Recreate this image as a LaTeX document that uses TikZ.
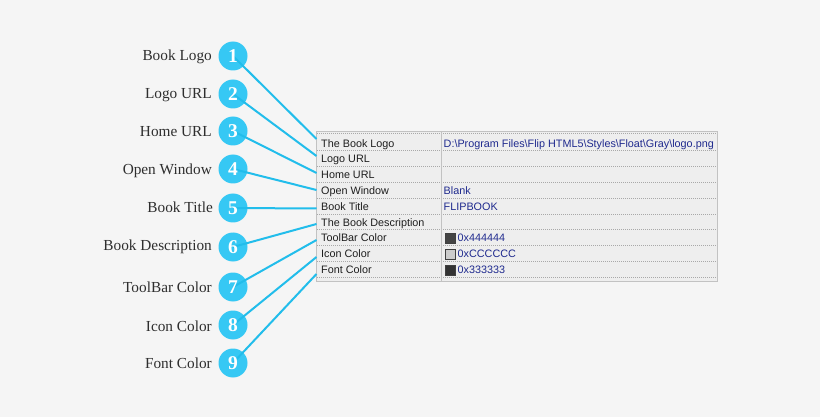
\documentclass[tikz,border=0pt]{standalone}
\usepackage{fontspec}
\setmainfont{Liberation Serif}
\newfontfamily\tablefont{Liberation Sans}
\definecolor{pagebg}{HTML}{F5F5F5}
\definecolor{tablebg}{HTML}{EEEEEE}
\definecolor{tableedge}{HTML}{C2C2C2}
\definecolor{rowrule}{HTML}{A9A9A9}
\definecolor{badgefill}{HTML}{36C8F4}
\definecolor{linkline}{HTML}{22BDEB}
\definecolor{labeltext}{HTML}{2E2E2E}
\definecolor{celltext}{HTML}{1E1E1E}
\definecolor{valuetext}{HTML}{1F2A8E}
\begin{document}
\begin{tikzpicture}[x=1pt,y=-1pt,
  badge/.style={circle, fill=badgefill, minimum size=29pt, inner sep=0pt},
  digit/.style={text=white, inner sep=0pt, font=\bfseries\fontsize{19.5}{19.5}\selectfont},
  itemlabel/.style={anchor=base east, inner sep=0pt, text=labeltext, font=\fontsize{15.3}{18}\selectfont},
  cellname/.style={anchor=base west, inner sep=0pt, text=celltext, font=\tablefont\fontsize{10.8}{12}\selectfont},
  cellvalue/.style={anchor=base west, inner sep=0pt, text=valuetext, font=\tablefont\fontsize{10.8}{12}\selectfont},
  swatch/.style={draw=black!75, line width=0.6pt, minimum size=10pt, inner sep=0pt},
  link/.style={draw=linkline, line width=2pt},
  rowsep/.style={draw=rowrule, line width=0.7pt, dash pattern=on 1pt off 1pt}]

% page background
\fill[pagebg] (0,0) rectangle (820,417);
\useasboundingbox (0,0) rectangle (820,417);

% property grid
\fill[tablebg] (316,131) rectangle (717,281.5);
\draw[rowsep] (317,133) -- (716,133);
\foreach \y in {150.7,166.5,182.3,198.1,213.9,229.7,245.5,261.3,277.1}
  \draw[rowsep] (317,\y) -- (716,\y);
\draw[tableedge, line width=0.9pt] (441.5,131) -- (441.5,281.5);
\draw[tableedge, line width=0.9pt] (316,131) rectangle (717,281.5);

% property names
\node[cellname] (r1) at (321,147.2) {The Book Logo};
\node[cellname] (r2) at (321,162.8) {Logo URL};
\node[cellname] (r3) at (321,178.6) {Home URL};
\node[cellname] (r4) at (321,194.4) {Open Window};
\node[cellname] (r5) at (321,210.2) {Book Title};
\node[cellname] (r6) at (321,226.0) {The Book Description};
\node[cellname] (r7) at (321,241.8) {ToolBar Color};
\node[cellname] (r8) at (321,257.6) {Icon Color};
\node[cellname] (r9) at (321,273.4) {Font Color};

% property values
\node[cellvalue] (v1) at (443.5,147.2) {D:\textbackslash Program Files\textbackslash Flip HTML5\textbackslash Styles\textbackslash Float\textbackslash Gray\textbackslash logo.png};
\node[cellvalue] (v4) at (443.5,194.4) {Blank};
\node[cellvalue] (v5) at (443.5,210.2) {FLIPBOOK};
\node[swatch, fill={rgb,255:red,68;green,68;blue,68}] (s7) at (450.5,238.4) {};
\node[swatch, fill={rgb,255:red,204;green,204;blue,204}] (s8) at (450.5,254.2) {};
\node[swatch, fill={rgb,255:red,51;green,51;blue,51}] (s9) at (450.5,270.0) {};
\node[cellvalue] (v7) at (457.5,241.8) {0x444444};
\node[cellvalue] (v8) at (457.5,257.6) {0xCCCCCC};
\node[cellvalue] (v9) at (457.5,273.4) {0x333333};

% attachment points on the grid edge
\coordinate (e1) at (316.5,139);
\coordinate (e2) at (316.5,156);
\coordinate (e3) at (316.5,173);
\coordinate (e4) at (316.5,190);
\coordinate (e5) at (316.5,208.5);
\coordinate (e6) at (316.5,224);
\coordinate (e7) at (316.5,240);
\coordinate (e8) at (316.5,257);
\coordinate (e9) at (316.5,274);

% numbered badges
\node[badge] (c1) at (233,56) {};
\node[badge] (c2) at (233,94) {};
\node[badge] (c3) at (233,131) {};
\node[badge] (c4) at (233,169) {};
\node[badge] (c5) at (233,208) {};
\node[badge] (c6) at (233,247) {};
\node[badge] (c7) at (233,287) {};
\node[badge] (c8) at (233,325) {};
\node[badge] (c9) at (233,363) {};

% connectors
\foreach \i in {1,...,9}
  \draw[link] (c\i.center) -- (e\i);

% badge numbers
\foreach \i in {1,...,9}
  \node[digit] (n\i) at (c\i) {\i};

% item labels
\node[itemlabel] (l1) at (212,60.5) {Book Logo};
\node[itemlabel] (l2) at (212,98.5) {Logo URL};
\node[itemlabel] (l3) at (212,136.5) {Home URL};
\node[itemlabel] (l4) at (212,174.5) {Open Window};
\node[itemlabel] (l5) at (213,213) {Book Title};
\node[itemlabel] (l6) at (212,251) {Book Description};
\node[itemlabel] (l7) at (212,292) {ToolBar Color};
\node[itemlabel] (l8) at (212,331) {Icon Color};
\node[itemlabel] (l9) at (212,368) {Font Color};
\end{tikzpicture}
\end{document}
